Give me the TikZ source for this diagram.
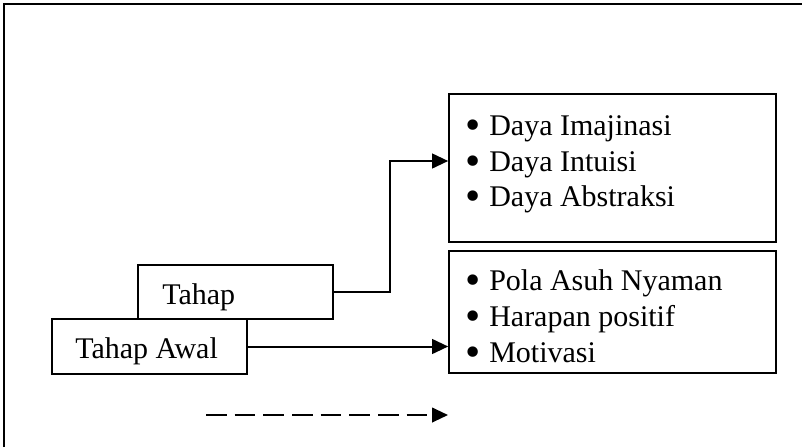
\documentclass[tikz,border=0pt]{standalone}
\usepackage{fontspec}
\setmainfont{Liberation Serif}
\usetikzlibrary{arrows.meta}
\newcommand{\bul}{\makebox[18pt][l]{\smash{\raisebox{-3pt}{\scalebox{1.45}{•}}}}}
\begin{document}
\begin{tikzpicture}[x=0.75pt,y=-0.75pt,
  box/.style={draw, line width=1.2pt, rectangle, inner sep=0pt},
  txt/.style={anchor=base west, inner sep=0pt, font=\fontsize{22.5pt}{27pt}\selectfont},
  conn/.style={line width=1.5pt, -{Triangle[length=12pt,width=11pt]}},
  frame/.style={line width=2pt}
]
\useasboundingbox (0,0) rectangle (802,447);
\coordinate (fa) at (4,447);
\coordinate (fb) at (4,4);
\coordinate (fc) at (802,4);
\draw[frame] (fa) -- (fb) -- (fc);

\node[box, minimum width=146.25pt, minimum height=40.5pt] (tahap) at (235.5,292) {};
\node[box, minimum width=146.25pt, minimum height=41.25pt] (awal) at (149.5,346.5) {};
\node[box, minimum width=245.25pt, minimum height=111pt] (box1) at (612.5,168) {};
\node[box, minimum width=245.25pt, minimum height=91.5pt] (box2) at (612.5,312) {};

\node[txt] (t1) at (162,304) {Tahap};
\node[txt] (t2) at (75,358) {Tahap Awal};

\node[txt] (a1) at (465,135) {\bul Daya Imajinasi};
\node[txt] (a2) at (465,171) {\bul Daya Intuisi};
\node[txt] (a3) at (465,206) {\bul Daya Abstraksi};

\node[txt] (b1) at (465,290) {\bul Pola Asuh Nyaman};
\node[txt] (b2) at (465,326) {\bul Harapan positif};
\node[txt] (b3) at (465,362) {\bul Motivasi};

\draw[conn] (tahap.east) -- ++(56,0) |- (box1.west |- 0,161);
\draw[conn] (awal.east) -- (box2.west |- awal.east);

\coordinate (d1) at (206,415);
\coordinate (d2) at (448,415);
\draw[conn, dash pattern=on 15.5pt off 6pt] (d1) -- (d2);
\end{tikzpicture}
\end{document}
